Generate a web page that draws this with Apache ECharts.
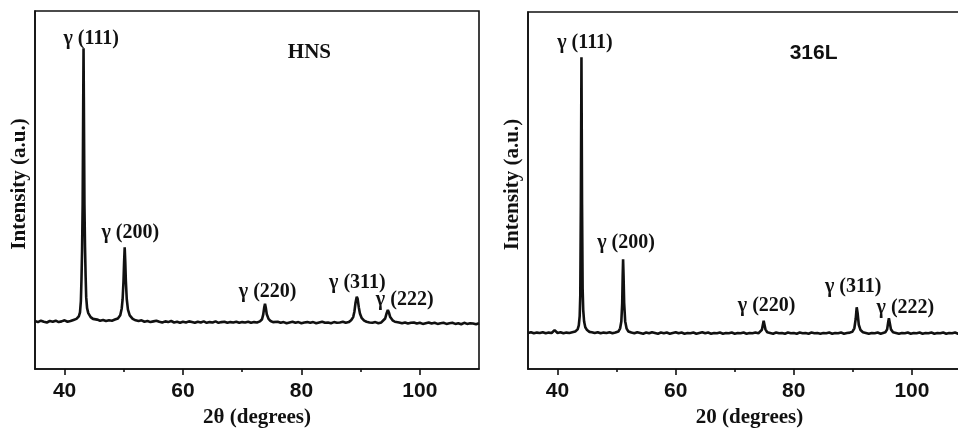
<!DOCTYPE html>
<html>
<head>
<meta charset="utf-8">
<script src="https://cdn.jsdelivr.net/npm/echarts@6/dist/echarts.min.js"></script>
<style>
  html, body { margin: 0; padding: 0; background: #fff; }
  #main { width: 958px; height: 428px; }
</style>
</head>
<body>
<div id="main"></div>
<script>
// x ticks shared by both panels
const majorTicks = [40, 60, 80, 100]
const minorTicks = [50, 70, 90]
const xTitles = ['2θ (degrees)', '20 (degrees)']

// HNS pattern, [2theta, intensity (a.u.)]
const hnsPattern = [
  [35, 13.4], [35.5, 13.1], [36, 13.5], [36.5, 13.2], [37, 13.0], [37.5, 13.4], [38, 13.2], [38.5, 13.5],
  [39, 13.1], [39.5, 13.3], [40, 13.6], [40.5, 13.2], [41, 13.4], [41.5, 13.7], [42, 14.0],
  [42.4, 14.7], [42.6, 15.8], [42.75, 19], [42.85, 25], [42.95, 33], [43.05, 46], [43.15, 76],
  [43.2, 89.6], [43.25, 76], [43.35, 46], [43.45, 34], [43.55, 26], [43.65, 20], [43.8, 17],
  [44.0, 15.6], [44.4, 14.5], [44.8, 14.0],
  [45, 13.9], [45.5, 13.8], [46, 13.5], [46.5, 13.7], [47, 13.4], [47.5, 13.6], [48, 13.5], [48.5, 13.8], [49, 14.1],
  [49.4, 15.0], [49.65, 16.9], [49.8, 19.5], [49.95, 24.5], [50.05, 29.8], [50.15, 34.0], [50.25, 29.8],
  [50.35, 24.5], [50.5, 19.5], [50.7, 16.6], [51.0, 15.0],
  [51.5, 14.0], [52, 13.6], [52.5, 13.4], [53, 13.6], [53.5, 13.2], [54, 13.4], [54.5, 13.1], [55, 13.3],
  [55.5, 13.5], [56, 13.2], [56.5, 13.0], [57, 13.3], [57.5, 13.1], [58, 13.4], [58.5, 13.0], [59, 13.2],
  [59.5, 12.9], [60, 13.2], [60.5, 13.0], [61, 13.3], [61.5, 13.1], [62, 12.9], [62.5, 13.2], [63, 13.0],
  [63.5, 13.3], [64, 12.9], [64.5, 13.1], [65, 13.0], [65.5, 13.3], [66, 12.9], [66.5, 13.1], [67, 13.2],
  [67.5, 12.9], [68, 13.1], [68.5, 13.0], [69, 13.2], [69.5, 12.9], [70, 13.1], [70.5, 13.0], [71, 13.2],
  [71.5, 12.9], [72, 13.1], [72.5, 13.0], [73, 13.3],
  [73.35, 13.9], [73.55, 15.2], [73.72, 17.2], [73.85, 18.2], [73.98, 17.2], [74.15, 15.3], [74.45, 14.0],
  [74.8, 13.4], [75.2, 13.1], [75.5, 13.0], [76, 13.2], [76.5, 12.9], [77, 13.1], [77.5, 12.8], [78, 13.0],
  [78.5, 13.2], [79, 12.9], [79.5, 13.1], [80, 12.8], [80.5, 13.0], [81, 13.1], [81.5, 12.9], [82, 13.1],
  [82.5, 12.8], [83, 13.0], [83.5, 13.2], [84, 12.9], [84.5, 13.0], [85, 12.8], [85.5, 13.1], [86, 12.9],
  [86.5, 13.0], [87, 13.2], [87.5, 12.9], [88, 13.1], [88.4, 13.6],
  [88.75, 14.5], [88.95, 16.0], [89.15, 18.6], [89.35, 20.2], [89.5, 19.6], [89.7, 17.2], [89.9, 15.4],
  [90.2, 14.2], [90.6, 13.5],
  [91, 13.2], [91.5, 13.0], [92, 12.9], [92.5, 13.1], [93, 12.8], [93.5, 13.0], [93.8, 13.3],
  [94.15, 14.1], [94.4, 15.6], [94.6, 16.5], [94.8, 15.7], [95.0, 14.5], [95.4, 13.6],
  [95.8, 13.2], [96, 12.9], [96.5, 13.0], [97, 12.8], [97.5, 13.0], [98, 12.7], [98.5, 12.9], [99, 13.0],
  [99.5, 12.7], [100, 12.9], [100.5, 12.6], [101, 12.8], [101.5, 13.0], [102, 12.7], [102.5, 12.9],
  [103, 12.6], [103.5, 12.8], [104, 12.9], [104.5, 12.6], [105, 12.8], [105.5, 12.9], [106, 12.6],
  [106.5, 12.8], [107, 12.5], [107.5, 12.9], [108, 12.6], [108.5, 12.8], [109, 12.7], [109.5, 12.5], [110, 12.8]
]

// 316L pattern
const ssPattern = [
  [35, 10.1], [35.5, 10.3], [36, 10.0], [36.5, 10.2], [37, 10.1], [37.5, 10.3], [38, 10.0], [38.5, 10.2],
  [39, 10.1], [39.3, 10.4], [39.5, 10.9], [39.7, 10.4], [40, 10.1], [40.5, 10.3], [41, 10.0], [41.5, 10.2],
  [42, 10.1], [42.5, 10.3],
  [43.0, 10.5], [43.4, 11.1], [43.6, 12.2], [43.75, 14.8], [43.85, 20.5], [43.95, 46], [44.05, 87.3],
  [44.15, 46], [44.25, 22.5], [44.35, 16.5], [44.5, 13.3], [44.7, 11.7], [45.0, 10.9], [45.4, 10.4],
  [45.8, 10.3], [46.3, 10.1], [46.8, 10.3], [47.3, 10.0], [47.8, 10.2], [48.3, 10.1], [48.8, 10.3],
  [49.3, 10.0], [49.8, 10.2],
  [50.3, 10.5], [50.6, 11.4], [50.8, 13.3], [50.95, 18.5], [51.03, 26], [51.1, 30.7], [51.18, 26],
  [51.28, 18.5], [51.45, 13.4], [51.7, 11.3], [52.0, 10.5],
  [52.5, 10.2], [53, 10.0], [53.5, 10.3], [54, 10.1], [54.5, 9.9], [55, 10.2], [55.5, 10.0], [56, 10.3],
  [56.5, 10.1], [57, 9.9], [57.5, 10.2], [58, 10.0], [58.5, 10.2], [59, 9.9], [59.5, 10.1], [60, 10.3],
  [60.5, 10.0], [61, 10.2], [61.5, 9.9], [62, 10.1], [62.5, 10.0], [63, 10.2], [63.5, 9.9], [64, 10.1],
  [64.5, 10.3], [65, 10.0], [65.5, 10.2], [66, 9.9], [66.5, 10.1], [67, 10.0], [67.5, 10.2], [68, 9.9],
  [68.5, 10.1], [69, 10.0], [69.5, 10.2], [70, 9.9], [70.5, 10.1], [71, 10.0], [71.5, 10.2], [72, 9.9],
  [72.5, 10.1], [73, 10.0], [73.5, 10.2], [74, 10.0],
  [74.3, 10.3], [74.6, 11.0], [74.8, 12.7], [74.9, 13.5], [75.0, 12.7], [75.2, 11.1], [75.5, 10.3],
  [76, 10.1], [76.5, 9.9], [77, 10.2], [77.5, 10.0], [78, 10.1], [78.5, 9.9], [79, 10.2], [79.5, 10.0],
  [80, 10.1], [80.5, 9.9], [81, 10.2], [81.5, 10.0], [82, 10.1], [82.5, 9.9], [83, 10.2], [83.5, 10.0],
  [84, 10.1], [84.5, 9.9], [85, 10.1], [85.5, 10.0], [86, 10.2], [86.5, 9.9], [87, 10.1], [87.5, 10.0],
  [88, 10.2], [88.5, 9.9], [89, 10.1], [89.5, 10.2],
  [89.9, 10.4], [90.25, 11.4], [90.48, 14.0], [90.65, 17.3], [90.8, 15.7], [91.0, 12.4], [91.3, 10.9], [91.7, 10.3],
  [92.2, 10.1], [92.7, 9.9], [93.2, 10.1], [93.7, 10.0], [94.2, 10.2], [94.7, 9.9], [95.1, 10.1],
  [95.5, 10.3], [95.8, 11.1], [96.0, 13.3], [96.1, 14.2], [96.25, 12.9], [96.45, 11.1], [96.8, 10.3],
  [97.3, 10.1], [97.8, 9.9], [98.3, 10.1], [98.8, 10.0], [99.3, 10.2], [99.8, 9.9], [100.3, 10.1],
  [100.8, 10.0], [101.3, 10.2], [101.8, 9.9], [102.3, 10.1], [102.8, 10.0], [103.3, 10.2], [103.8, 9.9],
  [104.3, 10.1], [104.8, 10.0], [105.3, 10.2], [105.8, 9.9], [106.3, 10.1], [106.8, 10.0], [107.3, 10.2],
  [107.8, 9.9], [108.3, 10.1], [108.8, 10.0], [109.3, 10.2], [110, 10.0]
]

// peak labels: [text, 2theta, intensity]
const hnsLabels = [
  ['γ (111)', 44.5, 92.2],
  ['γ (200)', 51.1, 38.0],
  ['γ (220)', 74.3, 21.5],
  ['γ (311)', 89.45, 24.0],
  ['γ (222)', 97.45, 19.3]
]
const ssLabels = [
  ['γ (111)', 44.65, 91.4],
  ['γ (200)', 51.6, 35.3],
  ['γ (220)', 75.4, 17.6],
  ['γ (311)', 90.05, 23.0],
  ['γ (222)', 98.9, 17.1]
]
const sampleNames = ['HNS', '316L']
const namePos = [[81.35, 88.3], [83.35, 88.4]]

const serif = '"Liberation Serif", "Times New Roman", serif'
const sans = '"Liberation Sans", Arial, sans-serif'

const chart = echarts.init(document.getElementById('main'))

function xAxes(grid) {
  return [{
    type: 'value',
    gridIndex: grid,
    min: 35,
    max: 110,
    name: xTitles[grid],
    nameLocation: 'middle',
    nameGap: 27,
    nameTextStyle: { fontFamily: serif, fontWeight: 'bold', fontSize: 21, color: '#111' },
    axisLine: { show: true, onZero: false, lineStyle: { color: '#111', width: 1.6 } },
    axisTick: { show: true, customValues: majorTicks, length: 6, lineStyle: { color: '#111', width: 1.6 } },
    axisLabel: { customValues: majorTicks, margin: 12, fontFamily: sans, fontWeight: 'bold', fontSize: 21, color: '#111' },
    splitLine: { show: false }
  }, {
    type: 'value',
    gridIndex: grid,
    min: 35,
    max: 110,
    position: 'bottom',
    axisLine: { show: false },
    axisTick: { show: true, customValues: minorTicks, length: 3, lineStyle: { color: '#111', width: 1.6 } },
    axisLabel: { show: false },
    splitLine: { show: false }
  }]
}

function yAxis(grid) {
  return {
    type: 'value',
    gridIndex: grid,
    min: 0,
    max: 100,
    name: 'Intensity (a.u.)',
    nameLocation: 'middle',
    nameGap: 5,
    nameTextStyle: { fontFamily: serif, fontWeight: 'bold', fontSize: 21, color: '#111', padding: [0, 0, 0, 12] },
    axisLine: { show: true, onZero: false, lineStyle: { color: '#111', width: 1.6 } },
    axisTick: { show: false },
    axisLabel: { show: false },
    splitLine: { show: false }
  }
}

function pattern(grid, data, labels, sample, pos, sampleFont) {
  const marks = labels.map(l => ({
    coord: [l[1], l[2]],
    value: l[0],
    label: { formatter: l[0], fontFamily: serif, fontSize: 20 }
  }))
  marks.push({
    coord: pos,
    value: sample,
    label: { formatter: sample, fontFamily: sampleFont, fontSize: 21 }
  })
  return {
    type: 'line',
    xAxisIndex: grid * 2,
    yAxisIndex: grid,
    data: data,
    showSymbol: false,
    symbol: 'none',
    silent: true,
    animation: false,
    lineStyle: { color: '#111', width: 2.6 },
    markPoint: {
      symbol: 'circle',
      symbolSize: 0,
      silent: true,
      animation: false,
      label: { show: true, position: 'inside', color: '#111', fontWeight: 'bold' },
      data: marks
    }
  }
}

chart.setOption({
  backgroundColor: '#fff',
  animation: false,
  grid: [
    { left: 35, top: 11, width: 444, height: 358, show: true, borderColor: '#111', borderWidth: 1.6, outerBoundsMode: 'none' },
    { left: 528, top: 12, width: 443, height: 357, show: true, borderColor: '#111', borderWidth: 1.6, outerBoundsMode: 'none' }
  ],
  xAxis: [...xAxes(0), ...xAxes(1)],
  yAxis: [yAxis(0), yAxis(1)],
  series: [
    pattern(0, hnsPattern, hnsLabels, sampleNames[0], namePos[0], serif),
    pattern(1, ssPattern, ssLabels, sampleNames[1], namePos[1], sans)
  ]
})
</script>
</body>
</html>
